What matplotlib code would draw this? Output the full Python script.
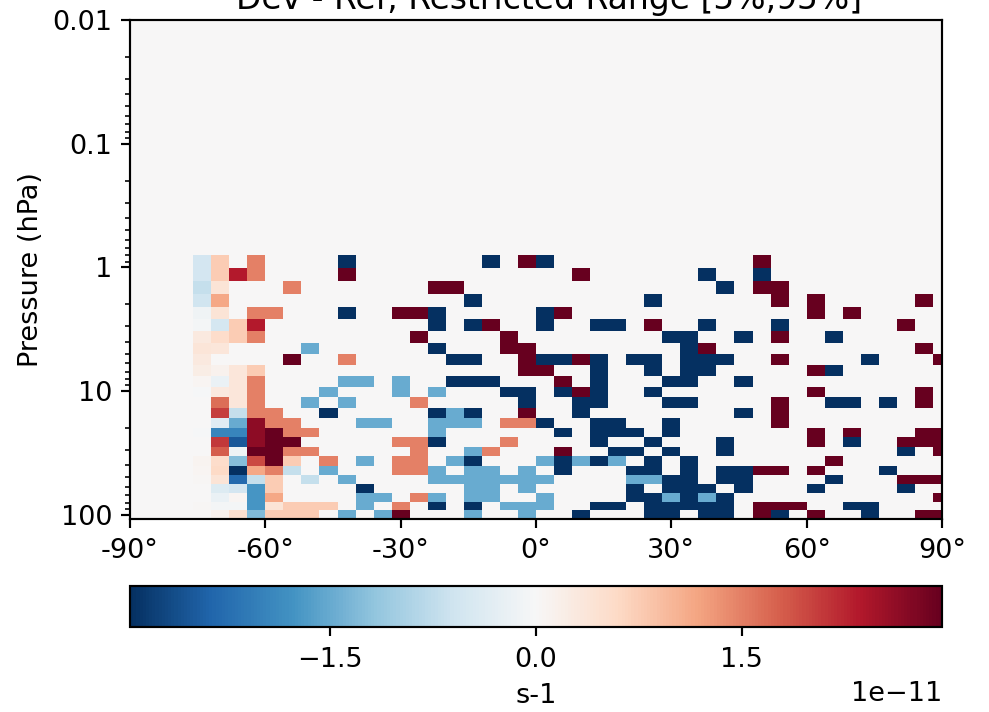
# Zonal mean difference plot, Dev - Ref on a restricted range
import numpy as np
import matplotlib
matplotlib.use("Agg")
import matplotlib.pyplot as plt

# Pressure level edges in hPa, top of the model down to about 100 hPa
pressure_edges = [0.01, 0.02, 0.0327, 0.0476, 0.066, 0.0893, 0.1197, 0.1595, 0.2113, 0.2785,
                  0.365, 0.4758, 0.6168, 0.7951, 1.0194, 1.3005, 1.6508, 2.085, 2.6202, 3.2764,
                  4.0766, 5.0468, 6.2168, 7.6198, 9.2929, 11.2769, 13.6434, 16.4571, 19.7916,
                  23.7304, 28.3678, 33.81, 40.1754, 47.6439, 56.3879, 66.6034, 78.5123, 92.3657,
                  108.663]

# Latitude cell edges, 4 degree grid with half cells at the poles
lat_edges = list(range(-92, 96, 4))

# The data only sits on a few repeated values, in units of 1e-11
N = -3.0   # navy
B = -1.5   # blue
P = 0.75   # peach
S = 1.5    # salmon
M = 3.0    # maroon

# Non-zero cells of each level below 0.8 hPa, as {latitude column: value}
levels_below_08 = [
    {4: -0.55, 5: P, 7: S, 12: N, 20: N, 22: M, 23: N, 35: M},
    {4: -0.55, 5: P, 6: 2.35, 7: S, 12: M, 25: M, 32: N, 35: N},
    {4: -0.7, 5: 0.4, 9: S, 17: M, 18: M, 33: N, 35: M, 36: M},
    {4: -0.6, 5: 1.15, 19: N, 29: N, 36: M, 38: M, 44: M},
    {4: -0.12, 5: 0.4, 7: S, 8: S, 12: N, 15: M, 16: M, 17: N, 23: N, 24: M, 38: M, 40: M},
    {4: -0.06, 5: -0.52, 6: P, 7: 2.35, 17: N, 19: N, 20: M, 23: N, 26: N, 27: N, 29: M, 32: N,
     36: N, 43: M},
    {4: 0.3, 5: 0.55, 6: P, 7: S, 16: M, 21: M, 30: N, 31: N, 34: N, 36: M, 39: N},
    {4: 0.38, 5: 0.35, 10: B, 17: N, 21: M, 22: M, 31: N, 32: M, 44: M},
    {4: 0.28, 9: M, 12: S, 18: N, 19: N, 22: M, 23: N, 24: N, 25: M, 26: N, 28: N, 29: N, 31: N,
     32: N, 33: N, 36: M, 41: N, 45: M},
    {4: 0.22, 5: 0.12, 6: 0.35, 7: P, 22: M, 23: M, 26: N, 29: N, 31: N, 32: N, 38: M, 39: N},
    {4: 0.05, 5: -0.2, 6: 0.35, 7: S, 12: B, 13: B, 15: B, 18: N, 19: N, 20: N, 24: M, 26: N,
     30: N, 31: N, 34: N},
    {4: -0.03, 5: 0.3, 6: 0.35, 7: S, 11: B, 15: B, 17: B, 21: N, 22: N, 24: N, 25: M, 26: N,
     29: N, 38: M, 44: M},
    {5: 1.65, 6: 0.35, 7: S, 10: B, 12: B, 16: S, 22: N, 25: N, 26: N, 30: N, 31: N, 36: M, 39: N,
     40: N, 42: N, 44: M},
    {5: 2.05, 6: -0.7, 7: S, 8: S, 11: N, 17: N, 18: B, 19: N, 22: M, 25: N, 34: N, 36: M},
    {5: -0.35, 6: B, 7: 2.65, 8: S, 9: S, 13: B, 14: B, 17: B, 18: B, 19: B, 21: S, 22: S, 23: N,
     26: N, 27: N, 30: N, 36: M},
    {4: -0.03, 5: -1.95, 6: -1.95, 7: 2.65, 8: M, 9: S, 10: S, 17: B, 24: N, 26: N, 27: N, 28: N,
     30: N, 38: M, 40: M, 44: M, 45: M},
    {5: 2.1, 6: -2.5, 7: 2.65, 8: M, 9: M, 15: S, 16: S, 17: N, 21: S, 26: N, 29: N, 33: N, 38: M,
     40: N, 43: M, 44: M, 45: M},
    {5: 1.8, 6: -0.12, 7: M, 8: M, 9: S, 10: S, 16: S, 19: B, 20: S, 24: M, 27: N, 28: N, 30: N,
     33: N, 43: N, 45: M},
    {4: 0.08, 5: 0.55, 6: -1.25, 7: 1.95, 8: M, 9: P, 11: S, 13: B, 15: S, 16: S, 18: B, 19: N,
     23: B, 24: N, 25: B, 26: N, 27: B, 29: N, 31: N, 39: M},
    {4: 0.06, 5: 0.6, 6: N, 7: 1.15, 8: S, 9: -0.7, 11: B, 15: S, 16: S, 17: B, 19: B, 20: B,
     22: B, 24: N, 28: N, 29: N, 31: N, 33: N, 34: N, 35: M, 36: M, 38: M, 42: N},
    {4: 0.04, 5: 0.4, 6: -2.3, 7: -0.7, 8: P, 10: -0.7, 12: B, 17: B, 18: B, 19: B, 20: B, 21: B,
     22: B, 23: B, 28: B, 29: B, 30: N, 31: N, 33: N, 34: N, 39: N, 43: M, 44: M, 45: M},
    {4: 0.02, 5: -0.4, 6: -0.55, 7: -1.75, 8: P, 13: N, 19: B, 20: B, 22: B, 28: N, 30: N, 31: N,
     32: N, 34: N, 38: N, 43: N},
    {5: -0.2, 6: 0.06, 7: -1.75, 8: 1.15, 13: B, 14: B, 16: S, 17: B, 19: B, 20: B, 23: B, 28: N,
     29: N, 30: B, 31: N, 32: B, 33: N, 45: M},
    {4: 0.04, 5: -0.06, 6: -0.06, 7: -1.75, 8: 0.4, 9: P, 10: P, 11: P, 13: B, 15: S, 17: N, 19: N,
     21: B, 22: B, 23: B, 26: N, 27: N, 29: N, 30: N, 31: N, 32: N, 33: N, 35: M, 36: M, 37: M,
     40: N, 41: N},
    {5: 0.12, 6: 0.5, 7: -1.3, 8: P, 9: P, 10: P, 12: B, 14: B, 15: M, 19: B, 22: B, 25: N, 29: N,
     30: N, 32: N, 33: N, 35: M, 36: N, 38: M, 41: N, 44: M, 45: M},
]

# Colour scale limit and tick labels
color_limit = 2.96e-11
scale = 1e-11
cbar_ticks = [-1.5e-11, 0.0, 1.5e-11]
lat_ticks = [-90, -60, -30, 0, 30, 60, 90]
pres_ticks = [0.01, 0.1, 1, 10, 100]
pres_labels = ["0.01", "0.1", "1", "10", "100"]

# Put the levels in an array, everything above 0.8 hPa stays zero
n_levels = len(pressure_edges) - 1
n_lats = len(lat_edges) - 1
diff = np.zeros((n_levels, n_lats))
first_level = n_levels - len(levels_below_08)
for i, level in enumerate(levels_below_08):
    for col, value in level.items():
        diff[first_level + i, col] = value * scale

# 989x712 at 195 dpi
dpi = 195
W, H = 989.0, 712.0
fig = plt.figure(figsize=(W / dpi, H / dpi), dpi=dpi)
ax = fig.add_axes([130 / W, 1 - 519 / H, 812 / W, 499 / H])
cax = fig.add_axes([130 / W, 1 - 627 / H, 812 / W, 41 / H])

mesh = ax.pcolormesh(lat_edges, pressure_edges, diff, cmap="RdBu_r",
                     vmin=-color_limit, vmax=color_limit)
ax.set_yscale("log")
ax.set_xlim(-90, 90)
ax.set_ylim(108.663, 0.01)
ax.set_xticks(lat_ticks)
ax.set_xticklabels([f"{t}°" for t in lat_ticks])
ax.set_yticks(pres_ticks)
ax.set_yticklabels(pres_labels)
ax.tick_params(axis="y", which="major", pad=3.0)
ax.set_ylabel("Pressure (hPa)", labelpad=3.0)
# the title sits off centre in the reference and runs past the top edge
ax.set_title("Dev - Ref, Restricted Range [5%,95%]", x=0.5166, pad=4.0, fontsize=12.15)

cbar = fig.colorbar(mesh, cax=cax, orientation="horizontal")
cbar.set_ticks(cbar_ticks)
cbar.ax.tick_params(pad=4.0)
cbar.set_label("s-1", labelpad=3.5)

fig.savefig("out.png", dpi=dpi)
